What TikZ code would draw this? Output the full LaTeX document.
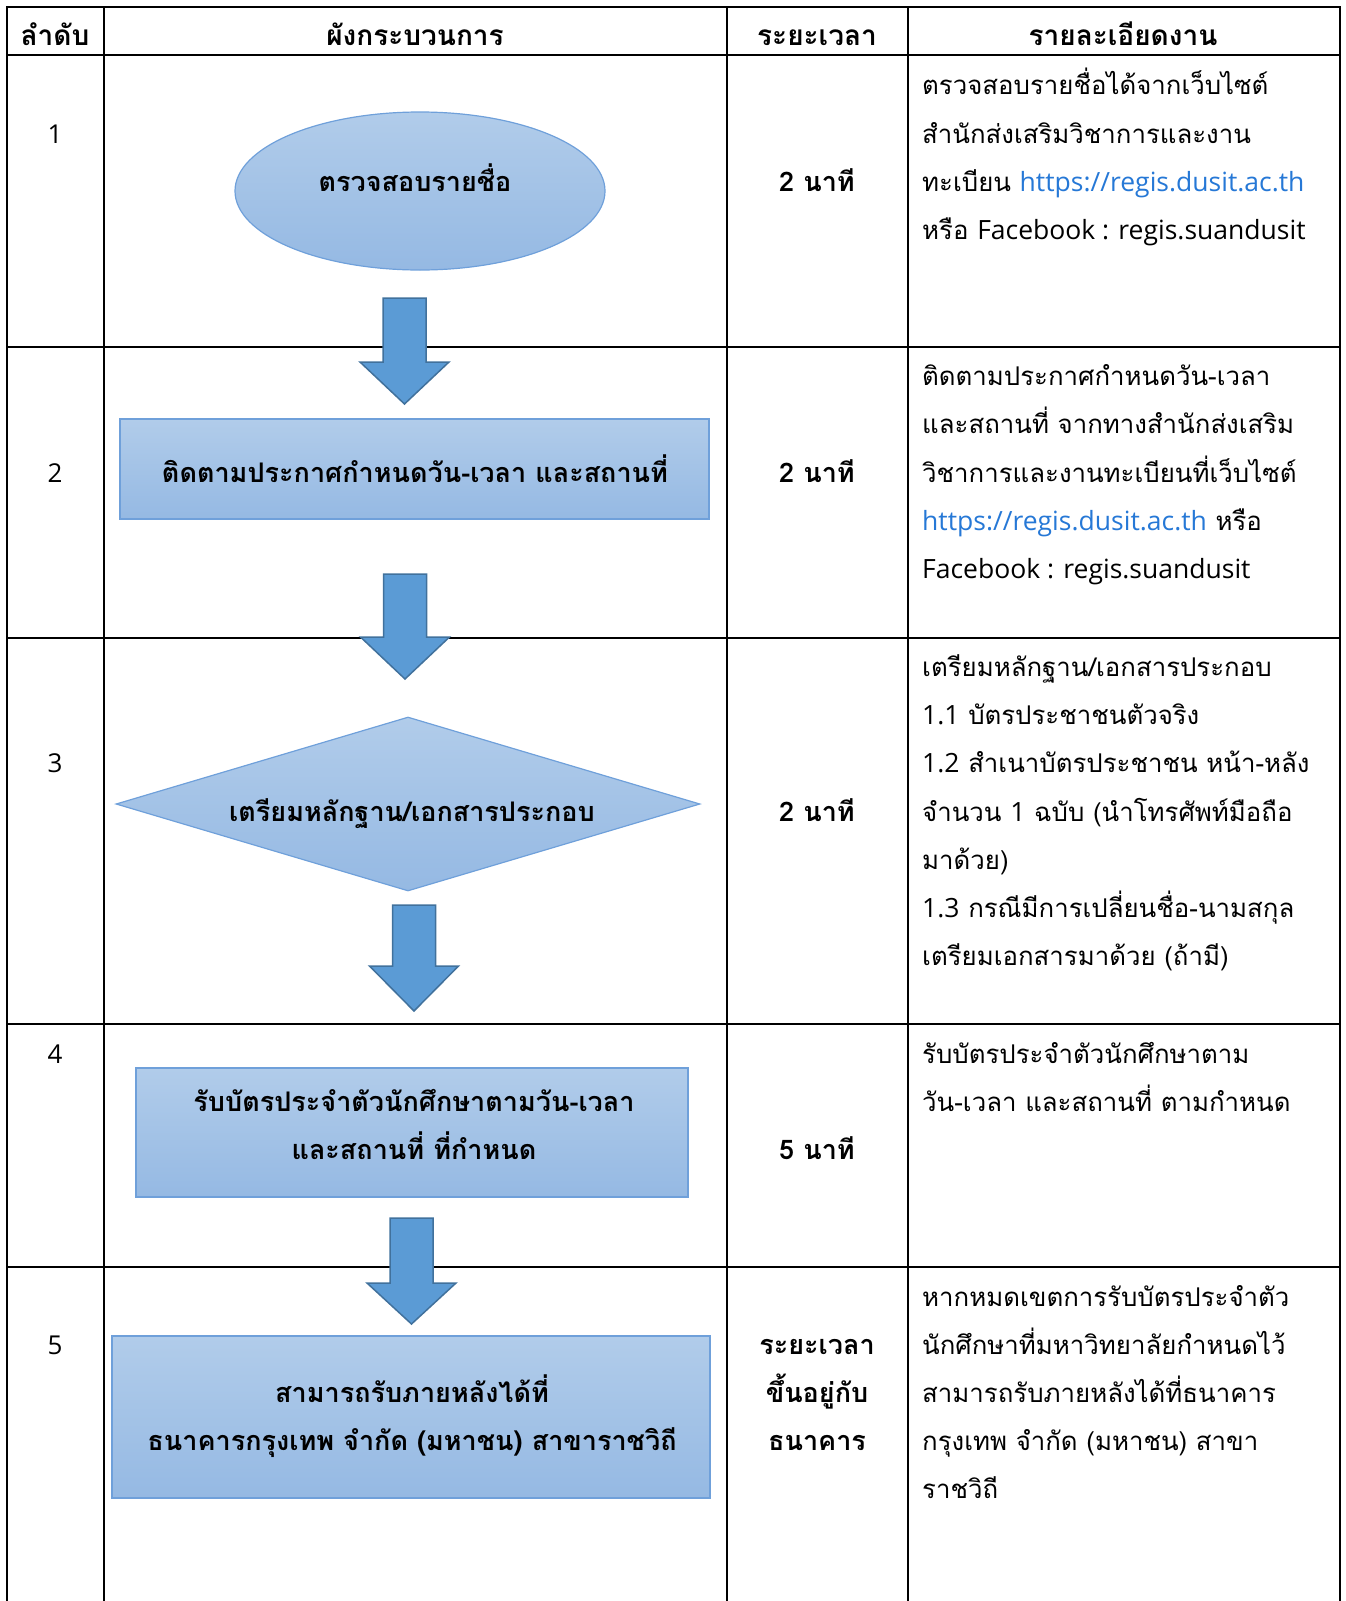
\documentclass[tikz,border=0pt]{standalone}
\usepackage{fontspec}
\setmainfont[Script=Thai]{Loma}
\newfontfamily\latfont{Open Sans}
\usetikzlibrary{shapes.geometric}
\definecolor{gridline}{RGB}{0,0,0}
\definecolor{shapetop}{RGB}{177,204,234}
\definecolor{shapebot}{RGB}{149,185,227}
\definecolor{shapeedge}{RGB}{111,160,218}
\definecolor{arrowfill}{RGB}{91,155,213}
\definecolor{arrowedge}{RGB}{65,113,156}
\definecolor{urlblue}{RGB}{38,120,214}
\tikzset{
  grid/.style={line width=2.5pt, draw=gridline},
  flowshape/.style={draw=shapeedge, line width=1.2pt, top color=shapetop, bottom color=shapebot, inner sep=0pt},
  blockarr/.style={draw=arrowedge, line width=1.5pt, fill=arrowfill, line join=miter},
  head/.style={font=\fontsize{28}{30}\selectfont\bfseries, anchor=base},
  num/.style={font=\fontsize{26}{30}\selectfont\latfont, anchor=base},
  shapetext/.style={font=\fontsize{27}{30}\selectfont\bfseries, anchor=base},
  timetext/.style={font=\fontsize{27}{30}\selectfont\bfseries, anchor=base},
  detail/.style={font=\fontsize{25.8}{30}\selectfont, anchor=base west, inner sep=0pt},
  pics/blockarrow/.style n args={2}{code={
    \draw[blockarr] (-21.5,0) -- (21.5,0) -- (21.5,#1) -- (44.5,#1) -- (0,#2) -- (-44.5,#1) -- (-21.5,#1) -- cycle;
  }}
}
\newcommand{\lat}[1]{{\fontsize{26.5}{30}\selectfont\latfont #1}}
\newcommand{\url}[1]{\textcolor{urlblue}{\lat{#1}}}
\begin{document}
\begin{tikzpicture}[x=1pt,y=-1pt]
\useasboundingbox (0,0) rectangle (1345,1601);
% table grid
\draw[grid] (7,1601) -- (7,7) -- (1340,7) -- (1340,1601);
\draw[grid] (104,7) -- (104,1601);
\draw[grid] (727,7) -- (727,1601);
\draw[grid] (908,7) -- (908,1601);
\foreach \yy in {55,347,638,1024,1267} {\draw[grid] (7,\yy) -- (1340,\yy);}
% headers
\node[head] (h1) at (55,45) {ลำดับ};
\node[head] (h2) at (415,45) {ผังกระบวนการ};
\node[head] (h3) at (817,45) {ระยะเวลา};
\node[head] (h4) at (1123,45) {รายละเอียดงาน};
% numbers
\node[num] (n1) at (55,143) {1};
\node[num] (n2) at (55,482) {2};
\node[num] (n3) at (55,772) {3};
\node[num] (n4) at (55,1063) {4};
\node[num] (n5) at (55,1354) {5};
% flow shapes
\node[flowshape, ellipse, minimum width=370pt, minimum height=158pt] (s1) at (420,191) {};
\node[flowshape, rectangle, minimum width=589pt, minimum height=100pt] (s2) at (414.5,469) {};
\node[flowshape, diamond, minimum width=584pt, minimum height=174pt] (s3) at (408,804) {};
\node[flowshape, rectangle, minimum width=552pt, minimum height=129pt] (s4) at (412,1132.5) {};
\node[flowshape, rectangle, minimum width=598pt, minimum height=162pt] (s5) at (411,1417) {};
% block arrows
\pic (a1) at (404.5,298) {blockarrow={64}{106}};
\pic (a2) at (405,574) {blockarrow={63}{105}};
\pic (a3) at (414,905) {blockarrow={61}{106}};
\pic (a4) at (411.5,1218) {blockarrow={65}{106}};
% shape texts
\node[shapetext] (t1) at (415,191) {ตรวจสอบรายชื่อ};
\node[shapetext] (t2) at (415,482) {ติดตามประกาศกำหนดวัน-เวลา และสถานที่};
\node[shapetext] (t3) at (412,821) {เตรียมหลักฐาน/เอกสารประกอบ};
\node[shapetext] (t4a) at (414,1111) {รับบัตรประจำตัวนักศึกษาตามวัน-เวลา};
\node[shapetext] (t4b) at (414,1159) {และสถานที่ ที่กำหนด};
\node[shapetext] (t5a) at (412,1402) {สามารถรับภายหลังได้ที่};
\node[shapetext] (t5b) at (412,1450) {ธนาคารกรุงเทพ จำกัด (มหาชน) สาขาราชวิถี};
% time column
\node[timetext] (m1) at (817,191) {2 นาที};
\node[timetext] (m2) at (817,482) {2 นาที};
\node[timetext] (m3) at (817,821) {2 นาที};
\node[timetext] (m4) at (817,1159) {5 นาที};
\node[timetext] (m5a) at (817,1354) {ระยะเวลา};
\node[timetext] (m5b) at (817,1402) {ขึ้นอยู่กับ};
\node[timetext] (m5c) at (817,1450) {ธนาคาร};
% details row 1
\node[detail] (d1a) at (922,94) {ตรวจสอบรายชื่อได้จากเว็บไซต์};
\node[detail] (d1b) at (922,143) {สำนักส่งเสริมวิชาการและงาน};
\node[detail] (d1c) at (922,191) {ทะเบียน \url{https://regis.dusit.ac.th}};
\node[detail] (d1d) at (922,239) {หรือ \lat{Facebook : regis.suandusit}};
% row 2
\node[detail] (d2a) at (922,385) {ติดตามประกาศกำหนดวัน-เวลา};
\node[detail] (d2b) at (922,433) {และสถานที่ จากทางสำนักส่งเสริม};
\node[detail] (d2c) at (922,482) {วิชาการและงานทะเบียนที่เว็บไซต์};
\node[detail] (d2d) at (922,530) {\url{https://regis.dusit.ac.th} หรือ};
\node[detail] (d2e) at (922,578) {\lat{Facebook : regis.suandusit}};
% row 3
\node[detail] (d3a) at (922,676) {เตรียมหลักฐาน/เอกสารประกอบ};
\node[detail] (d3b) at (922,724) {\lat{1.1} บัตรประชาชนตัวจริง};
\node[detail] (d3c) at (922,772) {\lat{1.2} สำเนาบัตรประชาชน หน้า-หลัง};
\node[detail] (d3d) at (922,821) {จำนวน \lat{1} ฉบับ (นำโทรศัพท์มือถือ};
\node[detail] (d3e) at (922,869) {มาด้วย)};
\node[detail] (d3f) at (922,917) {\lat{1.3} กรณีมีการเปลี่ยนชื่อ-นามสกุล};
\node[detail] (d3g) at (922,965) {เตรียมเอกสารมาด้วย (ถ้ามี)};
% row 4
\node[detail] (d4a) at (922,1063) {รับบัตรประจำตัวนักศึกษาตาม};
\node[detail] (d4b) at (922,1111) {วัน-เวลา และสถานที่ ตามกำหนด};
% row 5
\node[detail] (d5a) at (922,1306) {หากหมดเขตการรับบัตรประจำตัว};
\node[detail] (d5b) at (922,1354) {นักศึกษาที่มหาวิทยาลัยกำหนดไว้};
\node[detail] (d5c) at (922,1402) {สามารถรับภายหลังได้ที่ธนาคาร};
\node[detail] (d5d) at (922,1450) {กรุงเทพ จำกัด (มหาชน) สาขา};
\node[detail] (d5e) at (922,1498) {ราชวิถี};
\end{tikzpicture}
\end{document}
